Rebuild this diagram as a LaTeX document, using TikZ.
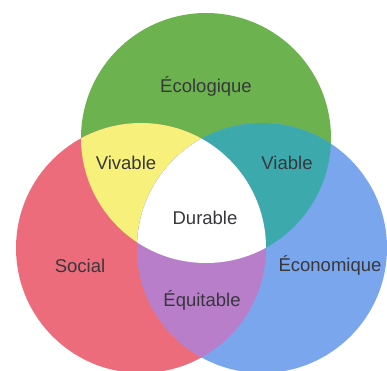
\documentclass[tikz,border=0pt]{standalone}
\usepackage{fontspec}
\setmainfont{Liberation Sans}

\definecolor{ecoGreen}{RGB}{108,178,78}
\definecolor{socRed}{RGB}{236,108,124}
\definecolor{ecnBlue}{RGB}{122,166,238}
\definecolor{vivYellow}{RGB}{247,241,124}
\definecolor{viaTeal}{RGB}{60,170,172}
\definecolor{equPurple}{RGB}{184,126,202}
\definecolor{lblGray}{RGB}{55,55,60}

\tikzset{
  lbl/.style={text=lblGray, inner sep=0.75pt, font=\fontsize{18.5}{22}\selectfont},
}

\begin{document}
\begin{tikzpicture}[x=1pt,y=1pt,yscale=-1,xscale=1]
\useasboundingbox (0,0) rectangle (387,370);

% circle centres
\coordinate (cEco) at (206,138);
\coordinate (cSoc) at (141,248);
\coordinate (cEcn) at (262,248);

%Shape: Circle [Ecologique]
\fill [ecoGreen] (cEco) circle (125);
%Shape: Circle [Social]
\fill [socRed] (cSoc) circle (125);
%Shape: Circle [Economique]
\fill [ecnBlue] (cEcn) circle (125);

%Shape: Lens [Vivable]
\begin{scope}
  \clip (cEco) circle (125);
  \fill [vivYellow] (cSoc) circle (125);
\end{scope}
%Shape: Lens [Viable]
\begin{scope}
  \clip (cEco) circle (125);
  \fill [viaTeal] (cEcn) circle (125);
\end{scope}
%Shape: Lens [Equitable]
\begin{scope}
  \clip (cSoc) circle (125);
  \fill [equPurple] (cEcn) circle (125);
\end{scope}
%Shape: Centre [Durable]
\begin{scope}
  \clip (cEco) circle (125);
  \clip (cSoc) circle (125);
  \fill [white] (cEcn) circle (125);
\end{scope}

% Text Node
\node [lbl] (ecologique) at (206,86) {Écologique};
% Text Node
\node [lbl] (vivable) at (126,163) {Vivable};
% Text Node
\node [lbl] (viable) at (287,163) {Viable};
% Text Node
\node [lbl] (durable) at (205,218) {Durable};
% Text Node
\node [lbl] (social) at (80,266) {Social};
% Text Node
\node [lbl] (economique) at (330,265) {Économique};
% Text Node
\node [lbl] (equitable) at (202,300) {Équitable};

\end{tikzpicture}
\end{document}
